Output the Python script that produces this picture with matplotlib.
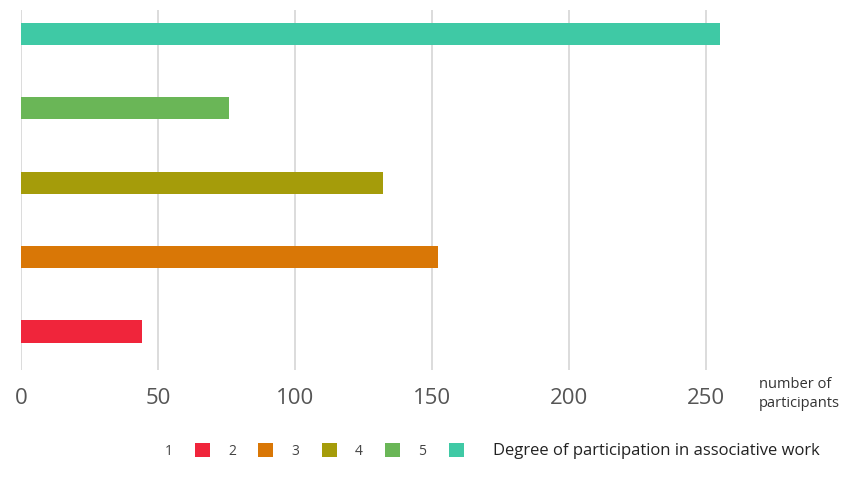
import matplotlib.pyplot as plt
from matplotlib.patches import Patch

# participation degree 1..5 and counts
degrees = ["1", "2", "3", "4", "5"]
participants = [44, 152, 132, 76, 255]
colors = ["#f0253b", "#d97706", "#a59c0a", "#6ab657", "#3fc9a5"]
xticks = [0, 50, 100, 150, 200, 250]

plt.rcParams['font.family'] = ['Open Sans', 'DejaVu Sans']

fig = plt.figure(figsize=(8.45, 4.88), dpi=100)
ax = fig.add_axes([21 / 845, 118 / 488, 718 / 845, 360 / 488])

ypos = list(range(len(degrees)))
ax.barh(ypos, participants, height=0.3, color=colors, zorder=3)

ax.set_xlim(0, 262)
ax.set_ylim(-0.517, 4.32)
ax.set_xticks(xticks)
ax.set_xticklabels([str(t) for t in xticks], fontsize=16, color="#555555")
ax.set_yticks([])
ax.tick_params(axis="x", length=0, pad=13)
ax.grid(axis="x", color="#d9d9d9", linewidth=1.3, zorder=0)
for s in ax.spines.values():
    s.set_visible(False)

fig.text(759 / 845, (488 - 394) / 488, "number of\nparticipants",
         fontsize=10.5, color="#333333", va="center", ha="left", linespacing=1.45)

handles = [Patch(facecolor=c, edgecolor="none") for c in colors]
fig.legend(handles, degrees, ncol=5, frameon=False, markerfirst=False,
           loc="center left", bbox_to_anchor=(152 / 845, (488 - 451) / 488),
           fontsize=10, handlelength=1.1, handleheight=1.1,
           handletextpad=1.6, columnspacing=1.3, labelcolor="#444444")
fig.text(493 / 845, (488 - 451) / 488, "Degree of participation in associative work",
         fontsize=12, color="#222222", va="center", ha="left")

fig.savefig("out.png", dpi=100)
